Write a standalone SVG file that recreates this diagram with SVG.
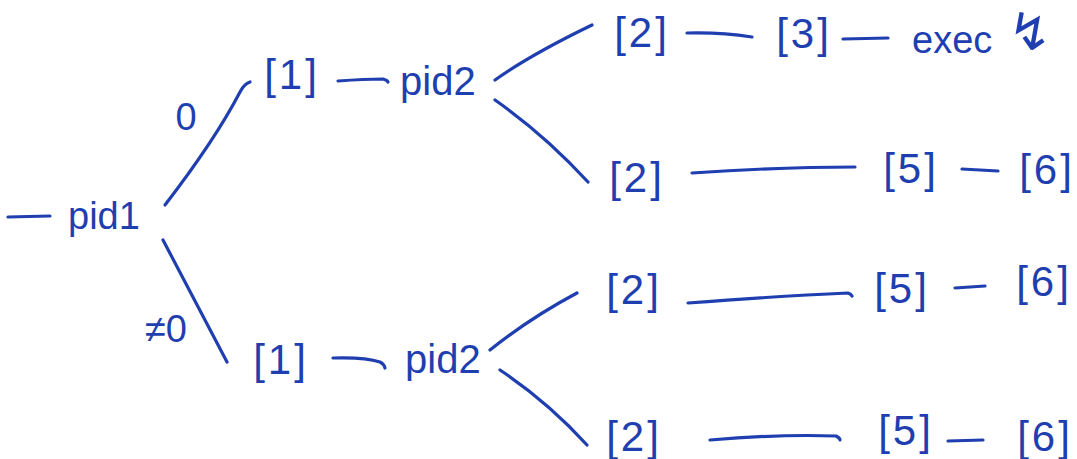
<svg xmlns="http://www.w3.org/2000/svg" width="1077" height="459" viewBox="0 0 1077 459">
<style>
.t{font-family:"Liberation Sans","DejaVu Sans",sans-serif;fill:#1f3fb0;}
.b{font-size:42px;letter-spacing:3px;text-anchor:middle;}
.p{font-size:40px;}
.e{stroke:#1f3fb0;stroke-width:3.2;fill:none;stroke-linecap:round;stroke-linejoin:round;}
</style>
<rect width="1077" height="459" fill="#ffffff"/>
<g id="connectors">
<path class="e" d="M8 217 L50 216"/>
<path class="e" d="M165 205 Q215 140 240 92 Q244 84 250 82"/>
<path class="e" d="M163 240 L227 362"/>
<path class="e" d="M338 81 Q365 79 383 79 Q387 80 388 82"/>
<path class="e" d="M495 80 Q530 55 592 25"/>
<path class="e" d="M495 100 Q545 135 588 182"/>
<path class="e" d="M687 33 Q720 32 752 37"/>
<path class="e" d="M843 39 L888 38"/>
<path class="e" d="M692 173 Q780 167 855 167"/>
<path class="e" d="M962 169 L998 171"/>
<path class="e" d="M333 358 Q365 357 380 362 Q384 364 385 368"/>
<path class="e" d="M490 350 Q530 318 577 293"/>
<path class="e" d="M500 370 Q548 402 587 445"/>
<path class="e" d="M688 303 Q780 296 848 293 Q851 294 852 296"/>
<path class="e" d="M955 288 L985 286"/>
<path class="e" d="M710 440 Q780 434 836 436 Q840 438 840 440"/>
<path class="e" d="M948 441 L983 440"/>
</g>
<g id="pid1"><text class="t" x="68" y="229" font-size="38">pid1</text></g>
<g id="label-zero"><text class="t" x="186" y="130" font-size="38" text-anchor="middle">0</text></g>
<g id="label-nonzero"><text class="t" x="166" y="342" font-size="38" text-anchor="middle">≠0</text></g>
<g id="n1-upper"><text class="t b" x="292" y="89">[1]</text></g>
<g id="pid2-upper"><text class="t p" x="400" y="95">pid2</text></g>
<g id="n1-lower"><text class="t b" x="281" y="374">[1]</text></g>
<g id="pid2-lower"><text class="t p" x="405" y="373">pid2</text></g>
<g id="r1-n2"><text class="t b" x="642" y="47">[2]</text></g>
<g id="r1-n3"><text class="t b" x="804" y="48">[3]</text></g>
<g id="r1-exec"><text class="t" x="912" y="53" font-size="38">exec</text><text class="t" x="1008" y="50" font-size="52">↯</text></g>
<g id="r2-n2"><text class="t b" x="637" y="192">[2]</text></g>
<g id="r2-n5"><text class="t b" x="911" y="183">[5]</text></g>
<g id="r2-n6"><text class="t b" x="1047" y="184">[6]</text></g>
<g id="r3-n2"><text class="t b" x="634" y="304">[2]</text></g>
<g id="r3-n5"><text class="t b" x="902" y="303">[5]</text></g>
<g id="r3-n6"><text class="t b" x="1044" y="296">[6]</text></g>
<g id="r4-n2"><text class="t b" x="634" y="451">[2]</text></g>
<g id="r4-n5"><text class="t b" x="906" y="445">[5]</text></g>
<g id="r4-n6"><text class="t b" x="1045" y="451">[6]</text></g>
</svg>
